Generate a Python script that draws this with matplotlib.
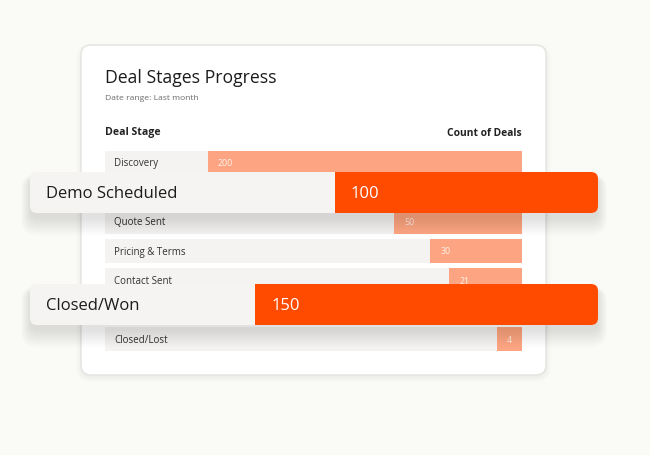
import numpy as np
import matplotlib.pyplot as plt
from matplotlib.patches import FancyBboxPatch

plt.rcParams['font.family'] = ['Open Sans', 'DejaVu Sans']

# data
stages = ['Discovery', 'Demo Scheduled', 'Quote Sent', 'Pricing & Terms',
          'Contact Sent', 'Closed/Won', 'Closed/Lost']
counts = [200, 100, 50, 30, 21, 150, 4]
highlighted = ['Demo Scheduled', 'Closed/Won']
popup_tops = [173, 285]  # pixel rows of the pop-out cards

W, H = 650, 456
BG = '#fafaf6'
ROW_BG = '#f4f3f1'
SALMON = '#fda583'
ORANGE = '#ff4b00'


def fwd(x):
    return np.sign(x) * np.abs(x) ** 0.65


def inv(x):
    return np.sign(x) * np.abs(x) ** (1 / 0.65)


def fbox(x0, y0, x1, y1):
    # pixel box (y from top) -> figure fraction rect
    return [x0 / W, 1 - y1 / H, (x1 - x0) / W, (y1 - y0) / H]


fig = plt.figure(figsize=(6.5, 4.56), dpi=100)
fig.patch.set_facecolor(BG)

# background layer in pixel coordinates
deco = fig.add_axes([0, 0, 1, 1], zorder=0)
deco.set_xlim(0, W)
deco.set_ylim(H, 0)
deco.axis('off')

# card shadow + card
for k in range(6):
    deco.add_patch(FancyBboxPatch((81 - k, 48 - k + 2), 465 + 2 * k, 328 + 2 * k,
                                  boxstyle='round,pad=0,rounding_size=%d' % (10 + k),
                                  fc='#000000', ec='none', alpha=0.006))
deco.add_patch(FancyBboxPatch((81, 46), 465, 330, boxstyle='round,pad=0,rounding_size=10',
                              fc='white', ec='#e3e3e0', lw=1))

fig.text(105 / W, 1 - 78 / H, 'Deal Stages Progress', fontsize=12.7,
         color='#1c1c1c', va='center', ha='left')
fig.text(105 / W, 1 - 98 / H, 'Date range: Last month', fontsize=6.1,
         color='#6a6a6a', va='center', ha='left')
fig.text(105 / W, 1 - 133 / H, 'Deal Stage', fontsize=7.6, fontweight='bold',
         color='#222222', va='center', ha='left')
fig.text(522 / W, 1 - 133 / H, 'Count of Deals', fontsize=7.4, fontweight='bold',
         color='#222222', va='center', ha='right')

# card bars
ax = fig.add_axes(fbox(105, 151.5, 522, 352.5), zorder=1)
ax.patch.set_alpha(0)
ax.set_xscale('function', functions=(fwd, inv))
ax.set_xlim(309, 0)
ax.set_ylim(6.41, -0.41)
ax.axis('off')

h = 0.814
y = np.arange(len(stages))
for i in y:
    ax.axhspan(i - h / 2, i + h / 2, color=ROW_BG, lw=0)
ax.barh(y, counts, height=h, color=SALMON, lw=0)
for i, (s, v) in enumerate(zip(stages, counts)):
    if s in highlighted:
        continue  # hidden behind the pop-out row
    ax.text(9 / 417, i, s, transform=ax.get_yaxis_transform(), fontsize=7,
            color='#333333', va='center', ha='left')
    ax.annotate(str(v), xy=(v, i), xytext=(10, 0), textcoords='offset pixels',
                fontsize=6.4, color='#fff1e8', va='center', ha='left')

# shadows for the pop-out rows
over = fig.add_axes([0, 0, 1, 1], zorder=2)
over.set_xlim(0, W)
over.set_ylim(H, 0)
over.axis('off')

for name, top in zip(highlighted, popup_tops):
    for k in range(10):
        over.add_patch(FancyBboxPatch((30 - k, top + 6 - k * 0.4), 568 + 2 * k, 41 + 2.2 * k,
                                      boxstyle='round,pad=0,rounding_size=%d' % (7 + k),
                                      fc='#000000', ec='none', alpha=0.012))
    card = FancyBboxPatch((30, top), 568, 41, boxstyle='round,pad=0,rounding_size=7',
                          fc='#f5f4f2', ec='none')
    over.add_patch(card)

    v = counts[stages.index(name)]
    pax = fig.add_axes(fbox(30, top, 598, top + 41), zorder=3)
    pax.patch.set_alpha(0)
    pax.set_xscale('function', functions=(fwd, inv))
    pax.set_xlim(326, 0)
    pax.set_ylim(-0.5, 0.5)
    pax.axis('off')
    bars = pax.barh([0], [v], height=1.0, color=ORANGE, lw=0)
    for b in bars:
        b.set_clip_path(card)
    pax.text(16 / 568, 0, name, transform=pax.get_yaxis_transform(), fontsize=12,
             color='#1c1c1c', va='center', ha='left')
    pax.annotate(str(v), xy=(v, 0), xytext=(16, 0), textcoords='offset pixels',
                 fontsize=12, color='white', va='center', ha='left')

fig.savefig('out.png', dpi=100, facecolor=BG)
